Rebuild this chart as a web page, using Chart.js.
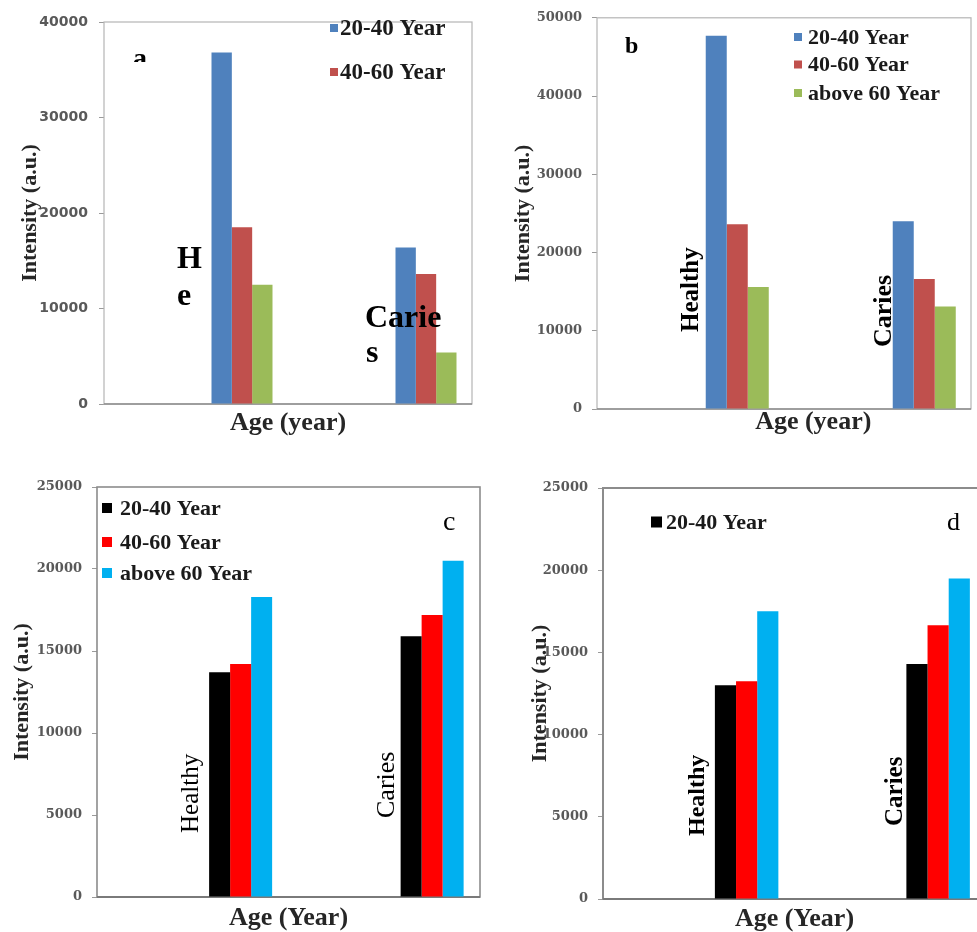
<!DOCTYPE html>
<html><head><meta charset="utf-8">
<script src="https://cdn.jsdelivr.net/npm/chart.js@4.4.1/dist/chart.umd.min.js"></script>
<style>
html,body{margin:0;padding:0;background:#fff;overflow:hidden;width:977px;height:932px;position:relative;}
canvas{position:absolute;}
</style></head><body>
<canvas id="ca" width="490" height="450" style="left:0;top:0"></canvas>
<canvas id="cb" width="487" height="450" style="left:490px;top:0"></canvas>
<canvas id="cc" width="490" height="482" style="left:0;top:450px"></canvas>
<canvas id="cd" width="510" height="482" style="left:490px;top:450px"></canvas>
<script>
// ---------- data ----------
const categories = ['', 'Healthy', '', 'Caries'];
const seriesNames = ['20-40 Year', '40-60 Year', 'above 60 Year'];

const a_20_40   = [null, 36800, null, 16400];
const a_40_60   = [null, 18500, null, 13600];
const a_above60 = [null, 12500, null, 5400];

const b_20_40   = [null, 47700, null, 24000];
const b_40_60   = [null, 23600, null, 16600];
const b_above60 = [null, 15600, null, 13100];

const c_20_40   = [null, 13700, null, 15900];
const c_40_60   = [null, 14200, null, 17200];
const c_above60 = [null, 18300, null, 20500];

const d_20_40   = [null, 13000, null, 14300];
const d_40_60   = [null, 13250, null, 16650];
const d_above60 = [null, 17500, null, 19500];

const yMax  = {a: 40000, b: 50000, c: 25000, d: 25000};
const yStep = {a: 10000, b: 10000, c: 5000, d: 5000};
const xTitles = {a: 'Age (year)', b: 'Age (year)', c: 'Age (Year)', d: 'Age (Year)'};
const yTitle = 'Intensity (a.u.)';
const panelLetters = {a: 'a', b: 'b', c: 'c', d: 'd'};

// ---------- styles ----------
const excelColors = ['#4f81bd', '#c0504d', '#9bbb59'];
const brightColors = ['#000000', '#ff0000', '#00b0f0'];
const SERIF = "'Liberation Serif', 'Times New Roman', serif";

const decor = {
  id: 'decor',
  beforeDatasetsDraw(chart, args, o) {
    const ctx = chart.ctx, ca = chart.chartArea;
    ctx.save();
    ctx.strokeStyle = o.frameColor; ctx.lineWidth = o.frameWidth;
    ctx.strokeRect(ca.left, ca.top, ca.right - ca.left, ca.bottom - ca.top);
    ctx.strokeStyle = o.axisColor; ctx.lineWidth = o.axisWidth;
    ctx.beginPath(); ctx.moveTo(ca.left, ca.bottom); ctx.lineTo(ca.right, ca.bottom); ctx.stroke();
    ctx.restore();
  },
  afterDatasetsDraw(chart, args, o) {
    const ctx = chart.ctx, xs = chart.scales.x;
    ctx.save();
    // category labels inside the plot
    (o.catLabels || []).forEach(cl => {
      const cx = xs.getPixelForValue(cl.index) + cl.dx;
      ctx.fillStyle = '#000';
      ctx.font = cl.font;
      ctx.textAlign = 'left';
      ctx.textBaseline = 'alphabetic';
      if (cl.rotate) {
        ctx.save();
        ctx.translate(cx, cl.y);
        ctx.rotate(-Math.PI / 2);
        ctx.fillText(cl.text, 0, 0);
        ctx.restore();
      } else {
        cl.lines.forEach((ln, i) => ctx.fillText(ln, cx + (cl.lineDx ? cl.lineDx[i] : 0), cl.y + i * cl.lh));
      }
    });
    // legend
    const lg = o.legend;
    if (lg) {
      ctx.font = lg.font; ctx.textBaseline = 'middle'; ctx.textAlign = 'left';
      lg.items.forEach((it, i) => {
        const ds = chart.data.datasets[it];
        const yy = lg.rows[i];
        ctx.fillStyle = ds.backgroundColor;
        ctx.fillRect(lg.sx, yy - lg.size / 2, lg.size, lg.size);
        ctx.fillStyle = '#1a1a1a';
        ctx.fillText(ds.label, lg.tx, yy + 1);
      });
    }
    // panel letter
    const L = o.letter;
    if (L) {
      ctx.save();
      if (L.clipY) { ctx.beginPath(); ctx.rect(0, 0, chart.width, L.clipY); ctx.clip(); }
      ctx.font = L.font; ctx.fillStyle = '#000'; ctx.textAlign = 'left'; ctx.textBaseline = 'alphabetic';
      ctx.fillText(L.text, L.x, L.y);
      ctx.restore();
    }
    ctx.restore();
  }
};

function makePanel(id, cfg) {
  const datasets = cfg.series.map((s, i) => ({
    label: seriesNames[i], data: s, backgroundColor: cfg.colors[i],
    borderWidth: 0, categoryPercentage: cfg.catPct, barPercentage: 1.0
  }));
  return new Chart(document.getElementById(id), {
    type: 'bar',
    data: {labels: categories, datasets},
    plugins: [decor],
    options: {
      responsive: false, animation: false, devicePixelRatio: 1,
      layout: {padding: cfg.padding},
      plugins: {
        legend: {display: false}, tooltip: {enabled: false},
        decor: cfg.decor
      },
      scales: {
        x: {
          type: 'category', offset: true,
          grid: {display: false}, border: {display: false},
          ticks: {display: false},
          title: {display: true, text: cfg.xTitle, color: '#262626',
                  font: {family: SERIF, weight: 'bold', size: 26, lineHeight: 1},
                  padding: {top: 0, bottom: cfg.xTitlePad}},
          afterFit(s) { s.height = cfg.xHeight; }
        },
        y: {
          min: 0, max: cfg.max,
          grid: {display: true, drawOnChartArea: false, drawTicks: true, tickLength: 5, color: '#9a9a9a', lineWidth: 1},
          border: {display: false},
          ticks: {stepSize: cfg.step, padding: cfg.tickPad, color: '#595959',
                  format: {useGrouping: false},
                  font: {family: cfg.tickFamily, weight: 'bold', size: cfg.tickSize}},
          title: {display: true, text: yTitle, color: '#262626',
                  font: {family: SERIF, weight: 'bold', size: 22, lineHeight: 1},
                  padding: {top: cfg.yTitlePad, bottom: 0}},
          afterFit(s) { s.width = cfg.yWidth; }
        }
      }
    }
  });
}

// panel a
makePanel('ca', {
  series: [a_20_40, a_40_60, a_above60], colors: excelColors, catPct: 0.663,
  max: yMax.a, step: yStep.a, xTitle: xTitles.a,
  padding: {left: 0, top: 22, right: 18, bottom: 0},
  yWidth: 104, xHeight: 46, xTitlePad: 14, yTitlePad: 19, tickPad: 11,
  tickFamily: "'DejaVu Sans', sans-serif", tickSize: 14,
  decor: {
    frameColor: '#b5b5b5', frameWidth: 1.2, axisColor: '#8c8c8c', axisWidth: 1.5,
    catLabels: [
      {index: 1, dx: -65, y: 268, lh: 37, lines: ['H', 'e'], font: "bold 32px " + SERIF},
      {index: 3, dx: -61, y: 327, lh: 35, lines: ['Carie', 's'], lineDx: [0, 1], font: "bold 32px " + SERIF}
    ],
    legend: {items: [0, 1], rows: [28, 72], sx: 330, size: 8, tx: 340, font: "bold 23px " + SERIF},
    letter: {text: panelLetters.a, x: 133, y: 67, font: "bold 28px " + SERIF, clipY: 62}
  }
});

// panel b
makePanel('cb', {
  series: [b_20_40, b_40_60, b_above60], colors: excelColors, catPct: 0.674,
  max: yMax.b, step: yStep.b, xTitle: ' '.repeat(9) + xTitles.b,
  padding: {left: 0, top: 15, right: 6, bottom: 0},
  yWidth: 107, xHeight: 41, xTitlePad: 15, yTitlePad: 22, tickPad: 10,
  tickFamily: "'DejaVu Serif', serif", tickSize: 13,
  decor: {
    frameColor: '#b5b5b5', frameWidth: 1.2, axisColor: '#8c8c8c', axisWidth: 1.5,
    catLabels: [
      {index: 1, dx: -39.5, y: 332, rotate: true, text: categories[1], font: "bold 25px " + SERIF},
      {index: 3, dx: -33, y: 347, rotate: true, text: categories[3], font: "bold 26px " + SERIF}
    ],
    legend: {items: [0, 1, 2], rows: [37, 64.5, 93], sx: 304, size: 8, tx: 318, font: "bold 22px " + SERIF},
    letter: {text: panelLetters.b, x: 135, y: 53, font: "bold 24px " + SERIF}
  }
});

// panel c
makePanel('cc', {
  series: [c_20_40, c_40_60, c_above60], colors: brightColors, catPct: 0.658,
  max: yMax.c, step: yStep.c, xTitle: xTitles.c,
  padding: {left: 0, top: 37, right: 10, bottom: 0},
  yWidth: 97, xHeight: 35, xTitlePad: 1, yTitlePad: 11.5, tickPad: 10,
  tickFamily: "'DejaVu Serif', serif", tickSize: 13,
  decor: {
    frameColor: '#8c8c8c', frameWidth: 1.6, axisColor: '#7a7a7a', axisWidth: 1.8,
    catLabels: [
      {index: 1, dx: -43, y: 383, rotate: true, text: categories[1], font: "25px " + SERIF},
      {index: 3, dx: -38, y: 368, rotate: true, text: categories[3], font: "26px " + SERIF}
    ],
    legend: {items: [0, 1, 2], rows: [58, 92, 123], sx: 102, size: 10, tx: 120, font: "bold 22px " + SERIF},
    letter: {text: panelLetters.c, x: 443, y: 80, font: "28px " + SERIF}
  }
});

// panel d
makePanel('cd', {
  series: [d_20_40, d_40_60, d_above60], colors: brightColors, catPct: 0.663,
  max: yMax.d, step: yStep.d, xTitle: xTitles.d,
  padding: {left: 0, top: 38, right: 14, bottom: 0},
  yWidth: 113, xHeight: 33, xTitlePad: 0, yTitlePad: 39, tickPad: 10,
  tickFamily: "'DejaVu Serif', serif", tickSize: 13,
  decor: {
    frameColor: '#8c8c8c', frameWidth: 2, axisColor: '#7a7a7a', axisWidth: 1.8,
    catLabels: [
      {index: 1, dx: -42.6, y: 386, rotate: true, text: categories[1], font: "bold 24px " + SERIF},
      {index: 3, dx: -36.5, y: 376, rotate: true, text: categories[3], font: "bold 25px " + SERIF}
    ],
    legend: {items: [0], rows: [72], sx: 161, size: 11, tx: 176, font: "bold 22px " + SERIF},
    letter: {text: panelLetters.d, x: 457, y: 80, font: "26px " + SERIF}
  }
});
</script>
</body></html>
